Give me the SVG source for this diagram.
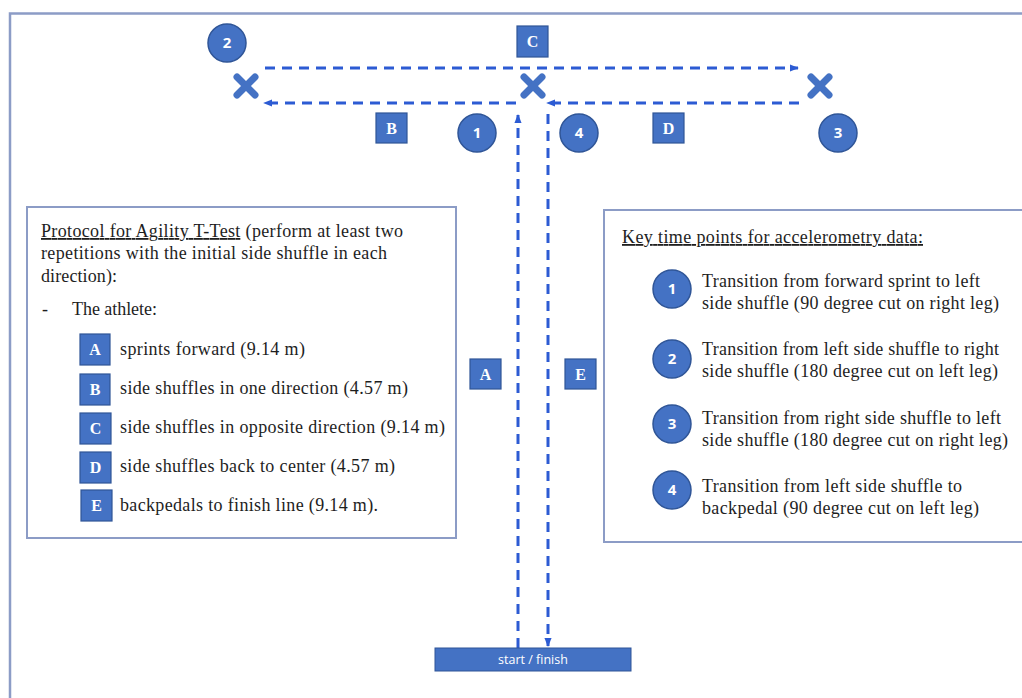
<svg xmlns="http://www.w3.org/2000/svg" width="1022" height="698" viewBox="0 0 1022 698">
<defs>
<style>
.frame{fill:none;stroke:#8c9cc6;stroke-width:2.5}
.panel{fill:#fff;stroke:#8c9cc6;stroke-width:2}
.sq{fill:#4472c4;stroke:#2f5597;stroke-width:1.2}
.circ{fill:#4472c4;stroke:#2f5597;stroke-width:1.5}
.lt{font-family:"Liberation Serif","Times New Roman",serif;font-size:16px;font-weight:bold;fill:#fff;text-anchor:middle}
.nt{font-family:"Open Sans","Liberation Sans",sans-serif;font-size:15px;fill:#fff;text-anchor:middle;font-weight:bold}
.tx{font-family:"Liberation Serif","Times New Roman",serif;font-size:18px;fill:#1e1e1e}
.dash{fill:none;stroke:#2c5bd3;stroke-width:3;stroke-dasharray:10 7}
.xm{stroke:#4472c4;stroke-width:7;stroke-linecap:round}
</style>
<marker id="ah" viewBox="0 0 10 10" refX="9" refY="5" markerWidth="9" markerHeight="9" markerUnits="userSpaceOnUse" orient="auto">
<path d="M0,1 L10,5 L0,9 Z" fill="#2c5bd3"/>
</marker>
</defs>
<rect width="1022" height="698" fill="#fff"/>
<path class="frame" d="M10,698 V13.5 H1022"/>

<g id="connectors">
<line class="dash" x1="265" y1="68" x2="798" y2="68" marker-end="url(#ah)"/>
<line class="dash" x1="516" y1="103" x2="264" y2="103" marker-end="url(#ah)"/>
<line class="dash" x1="799" y1="103" x2="547" y2="103" marker-end="url(#ah)"/>
<line class="dash" x1="518" y1="648" x2="518" y2="115" marker-end="url(#ah)"/>
<line class="dash" x1="548" y1="114" x2="548" y2="646" marker-end="url(#ah)"/>
</g>

<g id="cones">
<g id="x-left"><line class="xm" x1="237" y1="77" x2="255" y2="95"/><line class="xm" x1="255" y1="77" x2="237" y2="95"/></g>
<g id="x-center"><line class="xm" x1="524" y1="77" x2="542" y2="95"/><line class="xm" x1="542" y1="77" x2="524" y2="95"/></g>
<g id="x-right"><line class="xm" x1="811" y1="77" x2="829" y2="95"/><line class="xm" x1="829" y1="77" x2="811" y2="95"/></g>
</g>

<g id="node-2"><circle class="circ" cx="227" cy="43" r="19"/><text class="nt" x="227" y="48">2</text></g>
<g id="node-1"><circle class="circ" cx="477" cy="133" r="19"/><text class="nt" x="477" y="138">1</text></g>
<g id="node-4"><circle class="circ" cx="579" cy="133" r="19"/><text class="nt" x="579" y="138">4</text></g>
<g id="node-3"><circle class="circ" cx="838" cy="133" r="19"/><text class="nt" x="838" y="138">3</text></g>

<g id="label-C"><rect class="sq" x="517" y="26" width="31" height="31"/><text class="lt" x="532.5" y="47">C</text></g>
<g id="label-B"><rect class="sq" x="376" y="113" width="31" height="30"/><text class="lt" x="391.5" y="134">B</text></g>
<g id="label-D"><rect class="sq" x="653" y="113" width="31" height="30"/><text class="lt" x="668.5" y="134">D</text></g>
<g id="label-A"><rect class="sq" x="470" y="359" width="31" height="30"/><text class="lt" x="485.5" y="380">A</text></g>
<g id="label-E"><rect class="sq" x="565" y="359" width="31" height="30"/><text class="lt" x="580.5" y="380">E</text></g>

<g id="start-finish">
<rect x="435" y="648" width="196" height="23" fill="#4472c4" stroke="#2f5597" stroke-width="1"/>
<text x="533" y="664" font-family="'Open Sans','Liberation Sans',sans-serif" font-size="12.5" fill="#fff" text-anchor="middle">start / finish</text>
</g>

<g id="protocol-box">
<rect class="panel" x="27" y="207" width="429" height="331"/>
<text class="tx" x="41" y="237" textLength="362" lengthAdjust="spacing"><tspan text-decoration="underline">Protocol for Agility  T-Test</tspan> (perform at least two</text>
<text class="tx" x="41" y="259" textLength="346" lengthAdjust="spacing">repetitions with the initial  side shuffle in each</text>
<text class="tx" x="41" y="282" textLength="76" lengthAdjust="spacing">direction):</text>
<text class="tx" x="42" y="315">-</text>
<text class="tx" x="72" y="315" textLength="85" lengthAdjust="spacing">The athlete:</text>
<rect class="sq" x="80" y="334" width="30" height="31"/><text class="lt" x="95" y="355">A</text>
<text class="tx" x="120" y="355" textLength="185" lengthAdjust="spacing">sprints forward (9.14 m)</text>
<rect class="sq" x="80" y="374" width="30" height="31"/><text class="lt" x="95" y="395">B</text>
<text class="tx" x="120" y="394" textLength="288" lengthAdjust="spacing">side shuffles in one direction (4.57 m)</text>
<rect class="sq" x="80" y="413" width="31" height="31"/><text class="lt" x="95.5" y="434">C</text>
<text class="tx" x="120" y="433" textLength="325" lengthAdjust="spacing">side shuffles in opposite direction (9.14 m)</text>
<rect class="sq" x="80" y="452" width="31" height="31"/><text class="lt" x="95.5" y="473">D</text>
<text class="tx" x="120" y="472" textLength="275" lengthAdjust="spacing">side shuffles back to center (4.57 m)</text>
<rect class="sq" x="81" y="490" width="31" height="31"/><text class="lt" x="96.5" y="511">E</text>
<text class="tx" x="120" y="511" textLength="258" lengthAdjust="spacing">backpedals to finish line  (9.14 m).</text>
</g>

<g id="keypoints-box">
<rect class="panel" x="604" y="210" width="430" height="332"/>
<text class="tx" x="622" y="243" textLength="301" lengthAdjust="spacing" text-decoration="underline">Key time points for accelerometry data:</text>
<g id="kp-1">
<circle class="circ" cx="672" cy="289" r="19"/><text class="nt" x="672" y="294">1</text>
<text class="tx" x="702" y="287" textLength="278" lengthAdjust="spacing">Transition  from forward sprint to left</text>
<text class="tx" x="702" y="309" textLength="297" lengthAdjust="spacing">side shuffle (90 degree cut on right leg)</text>
</g>
<g id="kp-2">
<circle class="circ" cx="672" cy="359" r="19"/><text class="nt" x="672" y="364">2</text>
<text class="tx" x="702" y="355" textLength="297" lengthAdjust="spacing">Transition  from left side shuffle to right</text>
<text class="tx" x="702" y="377" textLength="296" lengthAdjust="spacing">side shuffle (180 degree cut on left leg)</text>
</g>
<g id="kp-3">
<circle class="circ" cx="672" cy="424" r="19"/><text class="nt" x="672" y="429">3</text>
<text class="tx" x="702" y="424" textLength="299" lengthAdjust="spacing">Transition  from right side shuffle to left</text>
<text class="tx" x="702" y="446" textLength="306" lengthAdjust="spacing">side shuffle (180 degree cut on right leg)</text>
</g>
<g id="kp-4">
<circle class="circ" cx="672" cy="490" r="19"/><text class="nt" x="672" y="495">4</text>
<text class="tx" x="702" y="492" textLength="260" lengthAdjust="spacing">Transition  from left side shuffle to</text>
<text class="tx" x="702" y="514" textLength="277" lengthAdjust="spacing">backpedal (90 degree cut on left leg)</text>
</g>
</g>
</svg>
